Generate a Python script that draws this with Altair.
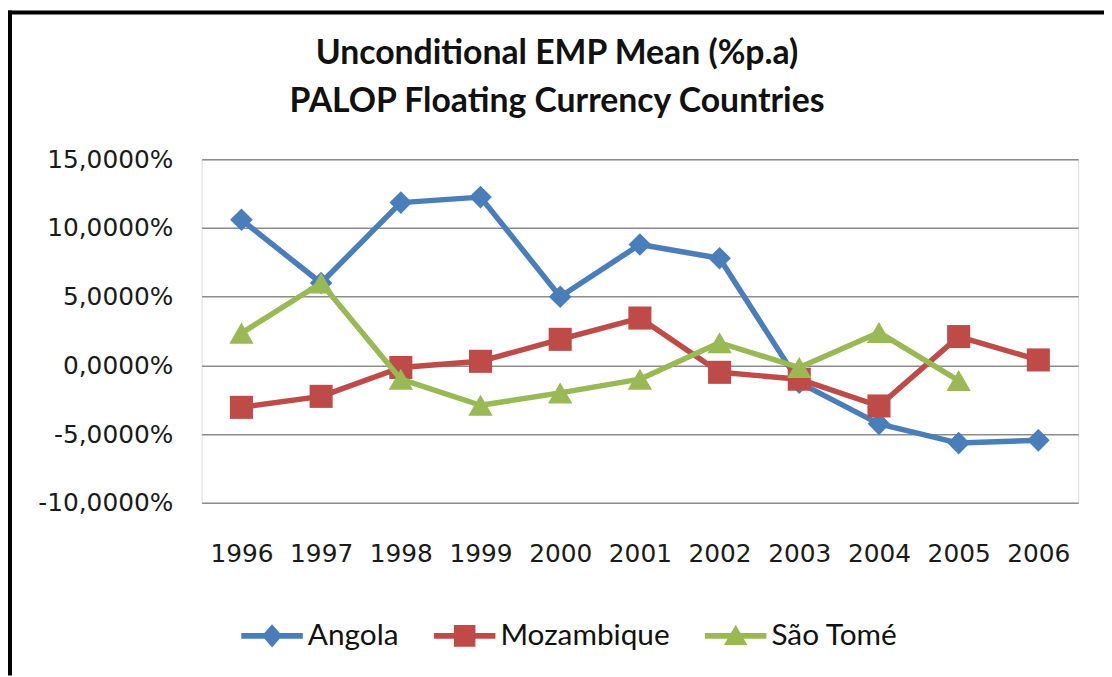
import altair as alt
import pandas as pd

years = [1996, 1997, 1998, 1999, 2000, 2001, 2002, 2003, 2004, 2005, 2006]
angola = [10.6, 6.0, 11.85, 12.25, 5.0, 8.8, 7.8, -1.25, -4.25, -5.65, -5.45]
mozambique = [-3.05, -2.25, -0.15, 0.3, 1.9, 3.45, -0.5, -1.0, -2.95, 2.1, 0.4]
saotome = [2.35, 6.0, -1.0, -2.9, -2.0, -1.0, 1.65, -0.15, 2.4, -1.1, None]

title_lines = ["Unconditional EMP Mean (%p.a)", "PALOP Floating Currency Countries"]
series_names = ["Angola", "Mozambique", "São Tomé"]
series_values = [angola, mozambique, saotome]
colors = ["#4A7EBB", "#BE4B48", "#98B954"]
shapes = ["diamond", "square", "triangle-up"]
legend_paths = [
    "M-1,-0.09H1V0.09H-1Z M0,-0.38L0.33,0L0,0.38L-0.33,0Z",
    "M-1,-0.09H1V0.09H-1Z M-0.35,-0.35H0.35V0.35H-0.35Z",
    "M-1,-0.09H1V0.09H-1Z M0,-0.36L0.38,0.3H-0.38Z",
]
sizes = [520, 540, 600]

rows = []
for name, vals in zip(series_names, series_values):
    for y, v in zip(years, vals):
        if v is not None:
            rows.append({"Year": str(y), "Series": name, "Value": v})
df = pd.DataFrame(rows)

year_labels = [str(y) for y in years]

x_enc = alt.X(
    "Year:O",
    sort=year_labels,
    scale=alt.Scale(domain=year_labels, padding=0.5),
    axis=alt.Axis(
        title=None, labelAngle=0, domain=False, ticks=False, grid=False,
        labelFont="DejaVu Sans", labelFontSize=25, labelColor="#1a1a1a",
        labelPadding=39,
    ),
)
y_enc = alt.Y(
    "Value:Q",
    scale=alt.Scale(domain=[-10, 15], nice=False, zero=False),
    axis=alt.Axis(
        title=None, values=[-10, -5, 0, 5, 10, 15],
        labelExpr="replace(replace(format(datum.value, '.4f'), '.', ','), '\u2212', '-') + '%'",
        domain=False, ticks=False, grid=True, gridColor="#8c8c8c", gridWidth=1.5,
        labelFont="DejaVu Sans", labelFontSize=25, labelColor="#1a1a1a",
        labelPadding=29,
    ),
)

layers = []
for name, col, shp, sz in zip(series_names, colors, shapes, sizes):
    base = alt.Chart(df).transform_filter(alt.datum.Series == name)
    layers.append(
        base.mark_line(color=col, strokeWidth=5.5, strokeJoin="round", strokeCap="round")
        .encode(x=x_enc, y=y_enc)
    )
    layers.append(
        base.mark_point(shape=shp, filled=True, color=col, size=sz, opacity=1)
        .encode(x=x_enc, y=y_enc)
    )

legend_layer = alt.Chart(df).mark_point(filled=True, size=0, strokeWidth=0, opacity=1).encode(
    x=x_enc,
    y=y_enc,
    color=alt.Color(
        "Series:N",
        scale=alt.Scale(domain=series_names, range=colors),
        legend=alt.Legend(
            orient="none", legendX=40, legendY=449, direction="horizontal",
            columns=3, title=None, labelFont="Lato", labelFontSize=30,
            labelColor="#111111", symbolSize=3844, symbolOpacity=1,
            symbolStrokeWidth=0, labelOffset=5, columnPadding=35, padding=0,
            labelLimit=400,
        ),
    ),
    shape=alt.Shape(
        "Series:N",
        scale=alt.Scale(domain=series_names, range=legend_paths),
    ),
)

frame_data = alt.Data(values=[{"k": 1}])
frame_left = alt.Chart(frame_data).mark_rule(color="black", strokeWidth=4).encode(
    x=alt.value(-193), y=alt.value(-150), y2=alt.value(520)
)
frame_top = alt.Chart(frame_data).mark_rule(color="black", strokeWidth=4).encode(
    x=alt.value(-195), x2=alt.value(910), y=alt.value(-148)
)
title1 = alt.Chart(frame_data).mark_text(
    font="Lato", fontSize=34, fontWeight="bold", color="#111111",
    align="center", baseline="middle",
).encode(x=alt.value(358), y=alt.value(-106), text=alt.value(title_lines[0]))
title2 = alt.Chart(frame_data).mark_text(
    font="Lato", fontSize=34, fontWeight="bold", color="#111111",
    align="center", baseline="middle",
).encode(x=alt.value(358), y=alt.value(-58), text=alt.value(title_lines[1]))

chart = alt.layer(legend_layer, *layers, frame_left, frame_top, title1, title2).properties(
    width=883,
    height=346,
    padding={"left": 195, "top": 150, "right": 26, "bottom": 173},
    autosize=alt.AutoSizeParams(type="none"),
).configure_view(stroke=None).configure(background="white")

chart.save("out.html", embed_options={"renderer": "svg", "actions": False})
